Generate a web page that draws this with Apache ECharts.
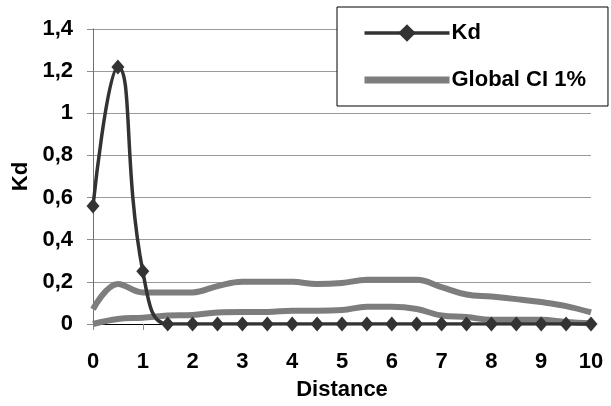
<!DOCTYPE html>
<html>
<head>
<meta charset="utf-8">
<script src="https://cdn.jsdelivr.net/npm/echarts@6/dist/echarts.min.js"></script>
<style>html,body{margin:0;padding:0;background:#fff}#c{width:611px;height:406px}</style>
</head>
<body>
<div id="c"></div>
<script>
var distance = [0,0.5,1,1.5,2,2.5,3,3.5,4,4.5,5,5.5,6,6.5,7,7.5,8,8.5,9,9.5,10];
var kd = [0.56,1.22,0.25,0,0,0,0,0,0,0,0,0,0,0,0,0,0,0,0,0,0];
var ciUpper = [0.07,0.19,0.15,0.15,0.15,0.18,0.2,0.2,0.2,0.19,0.195,0.21,0.21,0.21,0.175,0.14,0.13,0.118,0.104,0.085,0.055];
var ciLower = [0,0.024,0.03,0.04,0.043,0.055,0.057,0.057,0.063,0.063,0.066,0.082,0.082,0.071,0.04,0.033,0.02,0.02,0.02,0.01,0.003];
var seriesNames = ['Kd','Global CI 1%'];

function pairs(xs, ys){ return xs.map(function(x,i){return [x, ys[i]];}); }

var FONT = '"Liberation Sans", Arial, sans-serif';
var FS = 22;
var chart = echarts.init(document.getElementById('c'), null, {renderer:'canvas'});
chart.setOption({
  animation:false,
  backgroundColor:'#fff',
  textStyle:{fontFamily:FONT},
  grid:{left:93,right:20,top:29,bottom:81,containLabel:false},
  legend:{
    data:[
      {name:seriesNames[0], lineStyle:{width:3.5,color:'#333'}},
      {name:seriesNames[1], itemStyle:{opacity:0}, lineStyle:{width:7,color:'#7d7d7d'}}
    ],
    orient:'vertical',
    left:337, top:7,
    padding:[15,22,15,24],
    itemGap:25,
    itemWidth:85, itemHeight:22,
    backgroundColor:'#fff',
    borderColor:'#000', borderWidth:1,
    textStyle:{fontFamily:FONT,fontWeight:'bold',fontSize:FS,color:'#000',padding:[0,0,0,-3]}
  },
  xAxis:[{
    type:'value', min:0, max:10, interval:1,
    name:'Distance', nameLocation:'middle', nameGap:55,
    nameTextStyle:{fontFamily:FONT,fontWeight:'bold',fontSize:FS,color:'#000'},
    axisLine:{show:true,onZero:false,lineStyle:{color:'#8c8c8c',width:1}},
    axisTick:{show:true,length:6,inside:false,lineStyle:{color:'#8c8c8c'}},
    axisLabel:{fontFamily:FONT,fontWeight:'bold',fontSize:FS,color:'#000',margin:27},
    splitLine:{show:false}
  },{
    type:'value', min:0, max:10, position:'top',
    axisLine:{show:true,lineStyle:{color:'#000',width:1}},
    axisTick:{show:false}, axisLabel:{show:false}, splitLine:{show:false}
  }],
  yAxis:[{
    type:'value', min:0, max:1.4, interval:0.2,
    name:'Kd', nameLocation:'middle', nameGap:59, nameRotate:90,
    nameTextStyle:{fontFamily:FONT,fontWeight:'bold',fontSize:FS,color:'#000'},
    axisLine:{show:true,lineStyle:{color:'#8c8c8c',width:1}},
    axisTick:{show:true,length:6,lineStyle:{color:'#8c8c8c'}},
    axisLabel:{fontFamily:FONT,fontWeight:'bold',fontSize:FS,color:'#000',margin:20,
      formatter:function(v){ var r = Math.round(v*10)/10; return String(r).replace('.', ','); }},
    splitLine:{show:true,lineStyle:{color:'#9a9a9a',width:1}}
  },{
    type:'value', min:0, max:1.4, position:'right',
    axisLine:{show:true,lineStyle:{color:'#707070',width:1}},
    axisTick:{show:false}, axisLabel:{show:false}, splitLine:{show:false}
  }],
  series:[
    {name:seriesNames[1], type:'line', smooth:0.4, data:pairs(distance, ciUpper), symbol:'none',
     lineStyle:{color:'#7d7d7d',width:6}, itemStyle:{color:'#7d7d7d'}, z:2},
    {name:seriesNames[1], type:'line', smooth:0.4, data:pairs(distance, ciLower), symbol:'none',
     lineStyle:{color:'#7d7d7d',width:6}, itemStyle:{color:'#7d7d7d'}, z:2},
    {name:seriesNames[0], type:'line', smooth:0.5, data:pairs(distance, kd), symbol:'diamond', symbolSize:[13,15],
     lineStyle:{color:'#333',width:3.5}, itemStyle:{color:'#333'}, z:3}
  ]
});
</script>
</body>
</html>
